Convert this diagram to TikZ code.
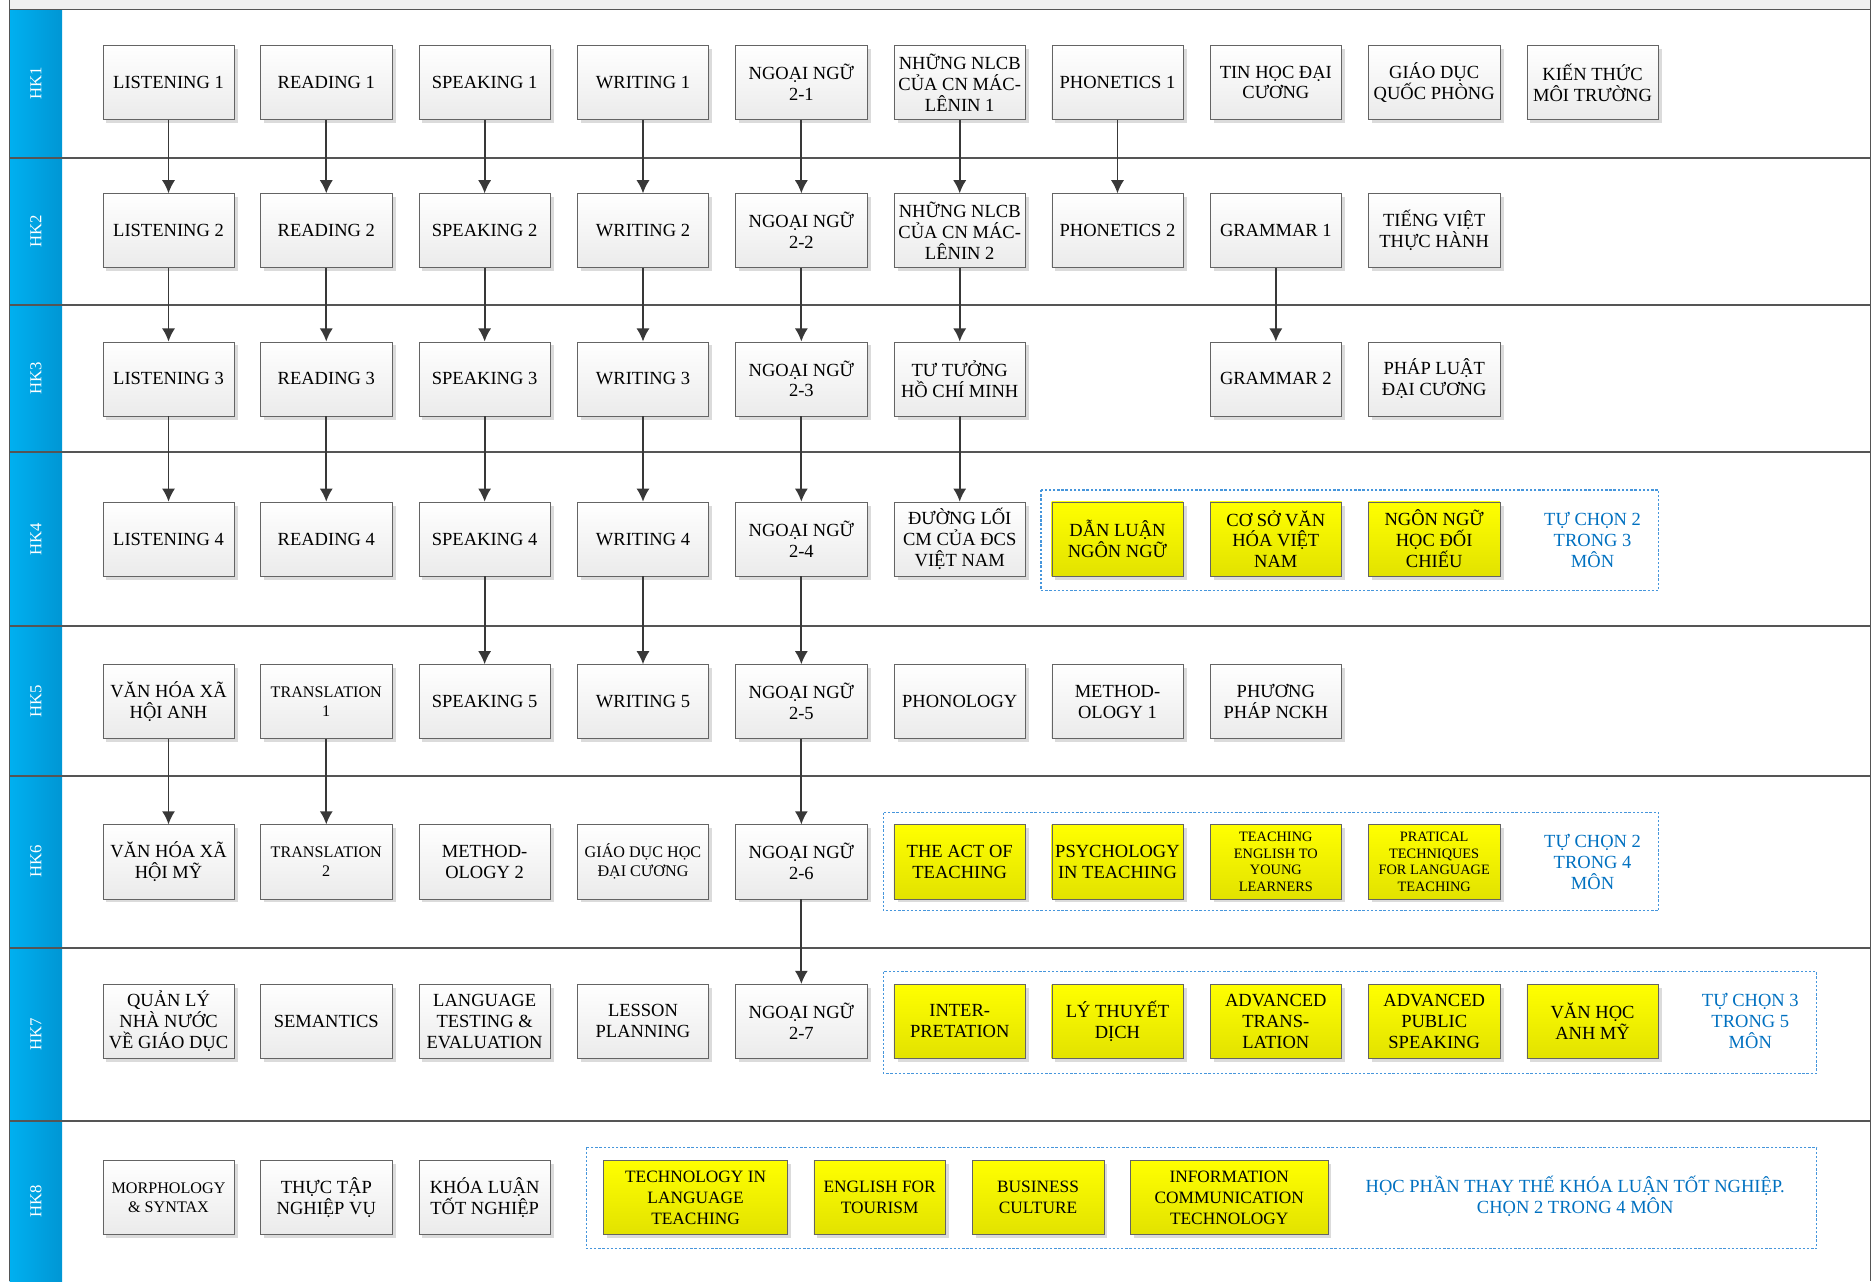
\documentclass[tikz,border=0pt]{standalone}
\usepackage{fontspec}
\setmainfont{Liberation Serif}
\usetikzlibrary{arrows.meta}
\usetikzlibrary{shadows}

\definecolor{hkblue}{RGB}{0,176,240}
\definecolor{hkdark}{RGB}{0,150,212}
\definecolor{pickblue}{RGB}{0,112,192}
\definecolor{dashblue}{RGB}{70,150,220}
\definecolor{boxline}{RGB}{100,100,100}
\definecolor{laneline}{RGB}{85,85,85}
\definecolor{yeltop}{RGB}{255,255,0}
\definecolor{yelbot}{RGB}{226,226,0}

\tikzset{
  course/.style={draw=boxline, top color=white, bottom color=black!8,
    minimum width=110pt, minimum height=62pt, inner sep=1pt, align=center,
    font=\fontsize{15.5}{17.5}\selectfont,
    drop shadow={shadow xshift=3pt, shadow yshift=-3pt, fill=black!14, opacity=1}},
  elective/.style={course, top color=yeltop, bottom color=yelbot},
  smallfont/.style={font=\fontsize{13.5}{16}\selectfont},
  tinyfont/.style={font=\fontsize{12}{14}\selectfont},
  pick/.style={text=pickblue, align=center, font=\fontsize{15.5}{17.5}\selectfont},
  choice/.style={draw=dashblue, line width=0.9pt, dash pattern=on 2pt off 1.5pt},
  lane/.style={draw=laneline, line width=1.4pt},
  hk/.style={text=white, rotate=90, font=\fontsize{14}{16}\selectfont},
  link/.style={draw=black!78, line width=1.5pt, -{Latex[length=11pt,width=11pt]}}
}

\begin{document}
\begin{tikzpicture}[x=1pt,y=-1pt]
  \useasboundingbox (0,0) rectangle (1568,1072);

  % pool frame and lanes
  \fill[black!6] (8,0) rectangle (1565,8);
  \shade[left color=hkblue, right color=hkdark] (8,8) rectangle (52,1072);
  \draw[lane] (8,8) -- (1565,8);
  \draw[lane] (8,0) -- (8,1072);
  \draw[lane] (1565,0) -- (1565,1072);
  \draw[lane] (8,132) -- (1565,132);
  \draw[lane] (8,255) -- (1565,255);
  \draw[lane] (8,378) -- (1565,378);
  \draw[lane] (8,524) -- (1565,524);
  \draw[lane] (8,649) -- (1565,649);
  \draw[lane] (8,793) -- (1565,793);
  \draw[lane] (8,938) -- (1565,938);

  \node[hk] (hk1) at (30,70) {HK1};
  \node[hk] (hk2) at (30,193.5) {HK2};
  \node[hk] (hk3) at (30,316.5) {HK3};
  \node[hk] (hk4) at (30,451) {HK4};
  \node[hk] (hk5) at (30,586.5) {HK5};
  \node[hk] (hk6) at (30,721) {HK6};
  \node[hk] (hk7) at (30,865.5) {HK7};
  \node[hk] (hk8) at (30,1005) {HK8};

  % elective frames
  \draw[choice] (871,410) rectangle (1388,494);
  \draw[choice] (739,680) rectangle (1388,762);
  \draw[choice] (739,813) rectangle (1520,898);
  \draw[choice] (491,960) rectangle (1520,1045);

  % HK1
  \node[course] (l1) at (141,69) {LISTENING 1};
  \node[course] (r1) at (273,69) {READING 1};
  \node[course] (s1) at (405.5,69) {SPEAKING 1};
  \node[course] (w1) at (538,69) {WRITING 1};
  \node[course] (nn1) at (670.5,69) {NGOẠI NGỮ\\2-1};
  \node[course] (ml1) at (803,69) {NHỮNG NLCB\\CỦA CN MÁC-\\LÊNIN 1};
  \node[course] (ph1) at (935,69) {PHONETICS 1};
  \node[course] (thdc) at (1067.5,69) {TIN HỌC ĐẠI\\CƯƠNG};
  \node[course] (gdqp) at (1200,69) {GIÁO DỤC\\QUỐC PHÒNG};
  \node[course] (ktmt) at (1332.5,69) {KIẾN THỨC\\MÔI TRƯỜNG};

  % HK2
  \node[course] (l2) at (141,193) {LISTENING 2};
  \node[course] (r2) at (273,193) {READING 2};
  \node[course] (s2) at (405.5,193) {SPEAKING 2};
  \node[course] (w2) at (538,193) {WRITING 2};
  \node[course] (nn2) at (670.5,193) {NGOẠI NGỮ\\2-2};
  \node[course] (ml2) at (803,193) {NHỮNG NLCB\\CỦA CN MÁC-\\LÊNIN 2};
  \node[course] (ph2) at (935,193) {PHONETICS 2};
  \node[course] (gr1) at (1067.5,193) {GRAMMAR 1};
  \node[course] (tvth) at (1200,193) {TIẾNG VIỆT\\THỰC HÀNH};

  % HK3
  \node[course] (l3) at (141,317) {LISTENING 3};
  \node[course] (r3) at (273,317) {READING 3};
  \node[course] (s3) at (405.5,317) {SPEAKING 3};
  \node[course] (w3) at (538,317) {WRITING 3};
  \node[course] (nn3) at (670.5,317) {NGOẠI NGỮ\\2-3};
  \node[course] (tthcm) at (803,317) {TƯ TƯỞNG\\HỒ CHÍ MINH};
  \node[course] (gr2) at (1067.5,317) {GRAMMAR 2};
  \node[course] (pldc) at (1200,317) {PHÁP LUẬT\\ĐẠI CƯƠNG};

  % HK4
  \node[course] (l4) at (141,451) {LISTENING 4};
  \node[course] (r4) at (273,451) {READING 4};
  \node[course] (s4) at (405.5,451) {SPEAKING 4};
  \node[course] (w4) at (538,451) {WRITING 4};
  \node[course] (nn4) at (670.5,451) {NGOẠI NGỮ\\2-4};
  \node[course] (dlcm) at (803,451) {ĐƯỜNG LỐI\\CM CỦA ĐCS\\VIỆT NAM};
  \node[elective] (dlnn) at (935,451) {DẪN LUẬN\\NGÔN NGỮ};
  \node[elective] (csvh) at (1067.5,451) {CƠ SỞ VĂN\\HÓA VIỆT\\NAM};
  \node[elective] (nnhdc) at (1200,451) {NGÔN NGỮ\\HỌC ĐỐI\\CHIẾU};
  \node[pick] (pick4) at (1332.5,452) {TỰ CHỌN 2\\TRONG 3\\MÔN};

  % HK5
  \node[course] (vhanh) at (141,587) {VĂN HÓA XÃ\\HỘI ANH};
  \node[course, smallfont] (tr1) at (273,587) {TRANSLATION\\1};
  \node[course] (s5) at (405.5,587) {SPEAKING 5};
  \node[course] (w5) at (538,587) {WRITING 5};
  \node[course] (nn5) at (670.5,587) {NGOẠI NGỮ\\2-5};
  \node[course] (phon) at (803,587) {PHONOLOGY};
  \node[course] (meth1) at (935,587) {METHOD-\\OLOGY 1};
  \node[course] (ppnckh) at (1067.5,587) {PHƯƠNG\\PHÁP NCKH};

  % HK6
  \node[course] (vhmy) at (141,721) {VĂN HÓA XÃ\\HỘI MỸ};
  \node[course, smallfont] (tr2) at (273,721) {TRANSLATION\\2};
  \node[course] (meth2) at (405.5,721) {METHOD-\\OLOGY 2};
  \node[course, smallfont] (gdhdc) at (538,721) {GIÁO DỤC HỌC\\ĐẠI CƯƠNG};
  \node[course] (nn6) at (670.5,721) {NGOẠI NGỮ\\2-6};
  \node[elective] (act) at (803,721) {THE ACT OF\\TEACHING};
  \node[elective] (psy) at (935,721) {PSYCHOLOGY\\IN TEACHING};
  \node[elective, tinyfont] (teyl) at (1067.5,721) {TEACHING\\ENGLISH TO\\YOUNG\\LEARNERS};
  \node[elective, tinyfont] (ptlt) at (1200,721) {PRATICAL\\TECHNIQUES\\FOR LANGUAGE\\TEACHING};
  \node[pick] (pick6) at (1332.5,721) {TỰ CHỌN 2\\TRONG 4\\MÔN};

  % HK7
  \node[course] (qlnn) at (141,854.5) {QUẢN LÝ\\NHÀ NƯỚC\\VỀ GIÁO DỤC};
  \node[course] (sem) at (273,854.5) {SEMANTICS};
  \node[course] (ltest) at (405.5,854.5) {LANGUAGE\\TESTING \&\\EVALUATION};
  \node[course] (lplan) at (538,854.5) {LESSON\\PLANNING};
  \node[course] (nn7) at (670.5,854.5) {NGOẠI NGỮ\\2-7};
  \node[elective] (interp) at (803,854.5) {INTER-\\PRETATION};
  \node[elective] (ltd) at (935,854.5) {LÝ THUYẾT\\DỊCH};
  \node[elective] (atrans) at (1067.5,854.5) {ADVANCED\\TRANS-\\LATION};
  \node[elective] (apub) at (1200,854.5) {ADVANCED\\PUBLIC\\SPEAKING};
  \node[elective] (vham) at (1332.5,854.5) {VĂN HỌC\\ANH MỸ};
  \node[pick] (pick7) at (1464.5,854.5) {TỰ CHỌN 3\\TRONG 5\\MÔN};

  % HK8
  \node[course, smallfont] (morph) at (141,1002) {MORPHOLOGY\\\& SYNTAX};
  \node[course] (ttnv) at (273,1002) {THỰC TẬP\\NGHIỆP VỤ};
  \node[course] (kltn) at (405.5,1002) {KHÓA LUẬN\\TỐT NGHIỆP};
  \node[elective, minimum width=154pt, font=\fontsize{14.5}{17.5}\selectfont] (tlt) at (582,1002) {TECHNOLOGY IN\\LANGUAGE\\TEACHING};
  \node[elective, font=\fontsize{14.5}{17.5}\selectfont] (eft) at (736,1002) {ENGLISH FOR\\TOURISM};
  \node[elective, font=\fontsize{14.5}{17.5}\selectfont] (bcul) at (868.5,1002) {BUSINESS\\CULTURE};
  \node[elective, minimum width=165pt, font=\fontsize{14.5}{17.5}\selectfont] (ict) at (1028.5,1002) {INFORMATION\\COMMUNICATION\\TECHNOLOGY};
  \node[pick] (pick8) at (1318,1001) {HỌC PHẦN THAY THẾ KHÓA LUẬN TỐT NGHIỆP.\\CHỌN 2 TRONG 4 MÔN};

  % prerequisites
  \draw[link] (l1) -- (l2);
  \draw[link] (r1) -- (r2);
  \draw[link] (s1) -- (s2);
  \draw[link] (w1) -- (w2);
  \draw[link] (nn1) -- (nn2);
  \draw[link] (ml1) -- (ml2);
  \draw[link] (ph1) -- (ph2);

  \draw[link] (l2) -- (l3);
  \draw[link] (r2) -- (r3);
  \draw[link] (s2) -- (s3);
  \draw[link] (w2) -- (w3);
  \draw[link] (nn2) -- (nn3);
  \draw[link] (ml2) -- (tthcm);
  \draw[link] (gr1) -- (gr2);

  \draw[link] (l3) -- (l4);
  \draw[link] (r3) -- (r4);
  \draw[link] (s3) -- (s4);
  \draw[link] (w3) -- (w4);
  \draw[link] (nn3) -- (nn4);
  \draw[link] (tthcm) -- (dlcm);

  \draw[link] (s4) -- (s5);
  \draw[link] (w4) -- (w5);
  \draw[link] (nn4) -- (nn5);

  \draw[link] (vhanh) -- (vhmy);
  \draw[link] (tr1) -- (tr2);
  \draw[link] (nn5) -- (nn6);

  \draw[link] (nn6) -- (nn7);
\end{tikzpicture}
\end{document}
